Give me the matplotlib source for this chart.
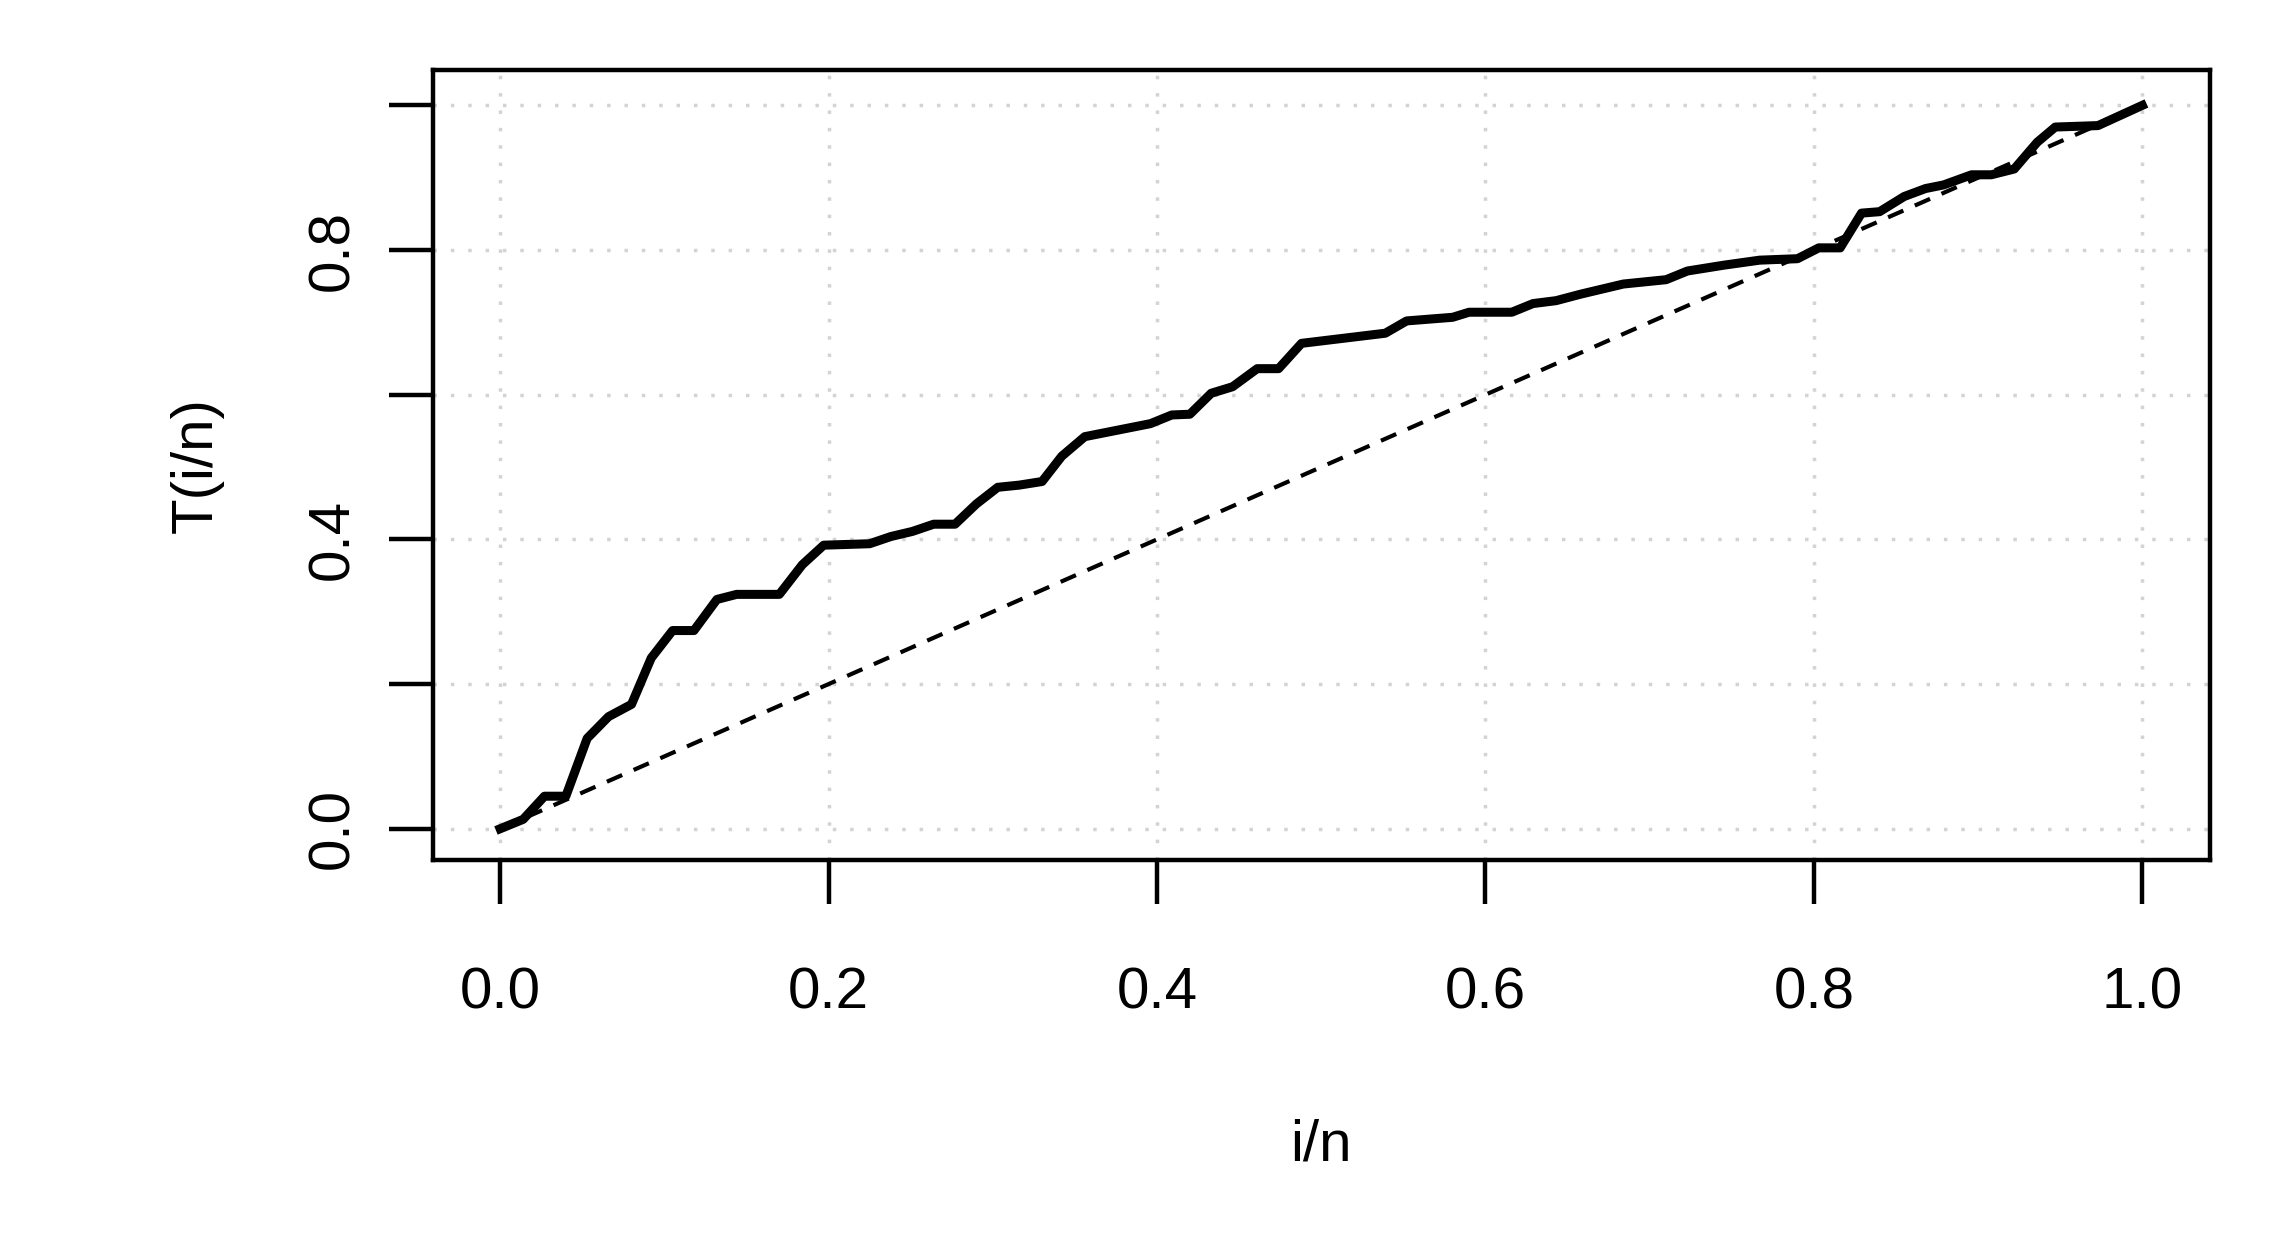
import matplotlib
matplotlib.use("Agg")
import matplotlib.pyplot as plt

plt.rcParams['font.family'] = ['Liberation Sans', 'DejaVu Sans']

frac = [0.0, 0.014, 0.027, 0.040, 0.053, 0.066, 0.080, 0.092, 0.105, 0.118,
        0.132, 0.144, 0.170, 0.184, 0.197, 0.225, 0.238, 0.251, 0.264, 0.277,
        0.290, 0.303, 0.316, 0.330, 0.342, 0.356, 0.396, 0.409, 0.420, 0.433,
        0.446, 0.461, 0.474, 0.488, 0.539, 0.552, 0.580, 0.590, 0.616, 0.629,
        0.643, 0.658, 0.671, 0.684, 0.710, 0.723, 0.745, 0.767, 0.790, 0.803,
        0.816, 0.829, 0.840, 0.855, 0.868, 0.879, 0.896, 0.908, 0.922, 0.936,
        0.947, 0.973, 1.0]
T = [0.0, 0.013, 0.045, 0.045, 0.125, 0.155, 0.172, 0.236, 0.274, 0.274,
     0.317, 0.324, 0.324, 0.365, 0.392, 0.394, 0.404, 0.411, 0.421, 0.421,
     0.449, 0.472, 0.475, 0.480, 0.515, 0.542, 0.560, 0.572, 0.573, 0.602,
     0.611, 0.636, 0.636, 0.671, 0.685, 0.702, 0.707, 0.714, 0.714, 0.726,
     0.730, 0.739, 0.746, 0.753, 0.759, 0.771, 0.779, 0.786, 0.788, 0.803,
     0.803, 0.851, 0.853, 0.874, 0.885, 0.890, 0.904, 0.904, 0.912, 0.949,
     0.970, 0.972, 1.0]
diag = [0.0, 1.0]
grid_vals = [0.0, 0.2, 0.4, 0.6, 0.8, 1.0]
yticklabels = ['0.0', '', '0.4', '', '0.8', '']

fig = plt.figure(figsize=(22.78, 12.48), dpi=100)
ax = fig.add_axes([0.19, 0.311, 0.78, 0.633])

for g in grid_vals:
    ax.axvline(g, color='#d3d3d3', lw=2.5, ls=(0, (1, 4)), zorder=0)
    ax.axhline(g, color='#d3d3d3', lw=2.5, ls=(0, (1, 4)), zorder=0)

ax.plot(diag, diag, color='black', lw=3, ls=(0, (4, 3)))
ax.plot(frac, T, color='black', lw=6.5, solid_joinstyle='round')

ax.set_xlim(-0.041, 1.041)
ax.set_ylim(-0.043, 1.049)
ax.set_xticks(grid_vals)
ax.set_xticklabels(['0.0', '0.2', '0.4', '0.6', '0.8', '1.0'])
ax.set_yticks(grid_vals)
ax.set_yticklabels(yticklabels, rotation=90, va='center')

for s in ax.spines.values():
    s.set_linewidth(3.2)
ax.spines['bottom'].set_position(('outward', 0))
ax.tick_params(axis='both', length=32, width=3.2, labelsize=42, direction='out')
ax.tick_params(axis='x', pad=45)
ax.tick_params(axis='y', pad=20)

ax.set_xlabel('i/n', fontsize=42, labelpad=70)
ax.set_ylabel('T(i/n)', fontsize=42, labelpad=60)

fig.savefig('out.png', dpi=100)
